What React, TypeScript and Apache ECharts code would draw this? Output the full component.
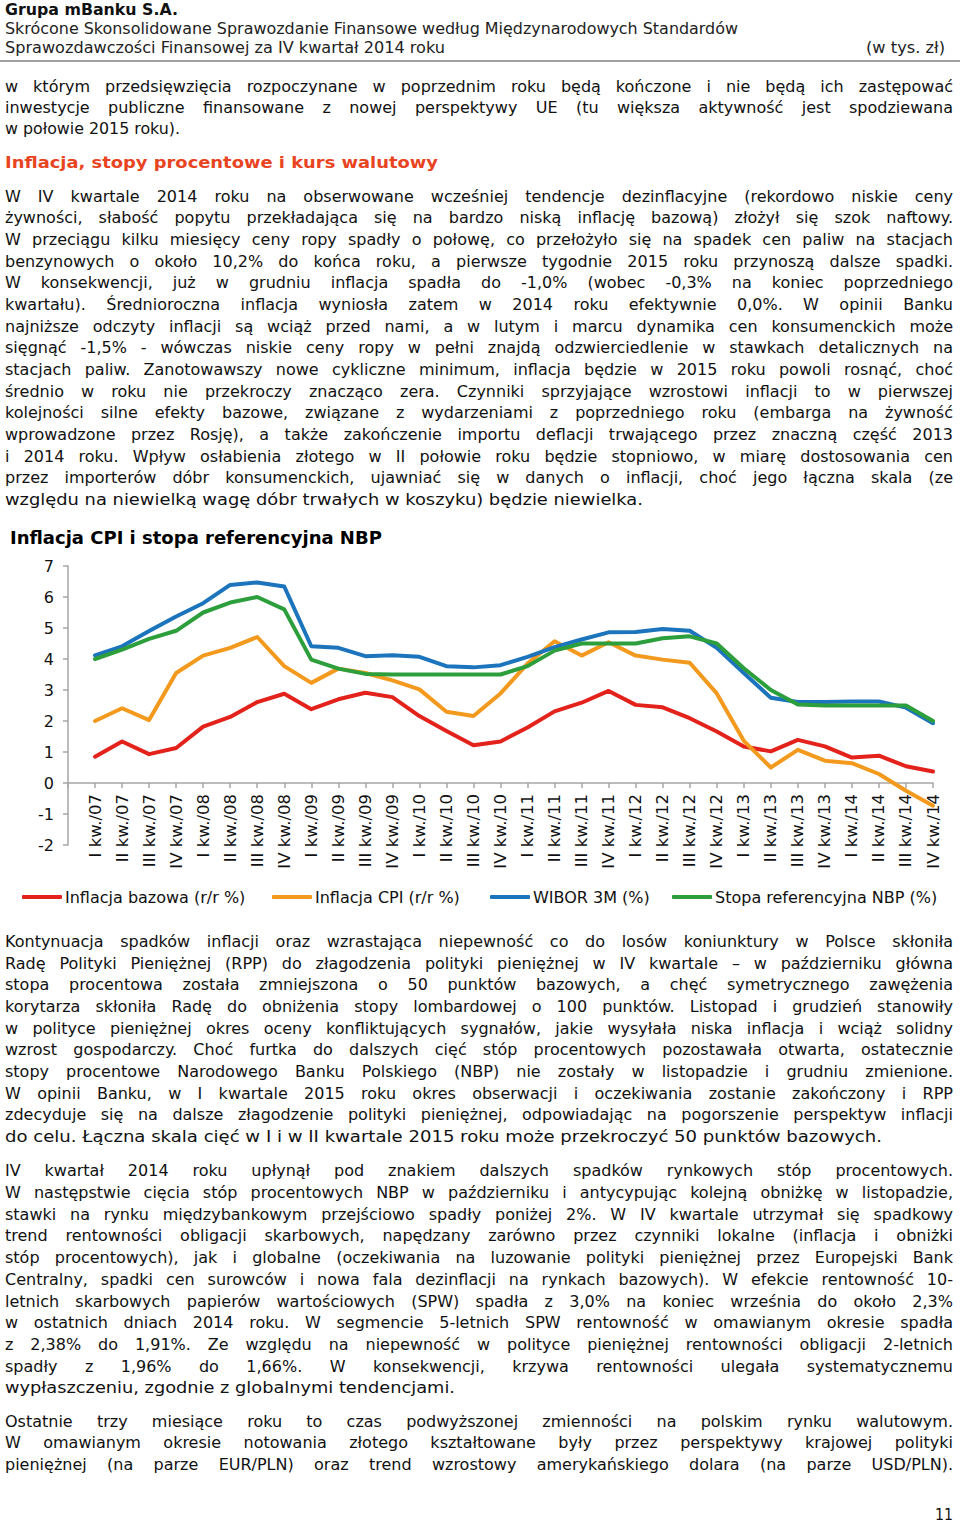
import React, { useEffect, useLayoutEffect, useRef } from "react";
import * as echarts from "echarts";

const categories = [
  "I kw./07", "II kw./07", "III kw./07", "IV kw./07",
  "I kw./08", "II kw./08", "III kw./08", "IV kw./08",
  "I kw./09", "II kw./09", "III kw./09", "IV kw./09",
  "I kw./10", "II kw./10", "III kw./10", "IV kw./10",
  "I kw./11", "II kw./11", "III kw./11", "IV kw./11",
  "I kw./12", "II kw./12", "III kw./12", "IV kw./12",
  "I kw./13", "II kw./13", "III kw./13", "IV kw./13",
  "I kw./14", "II kw./14", "III kw./14", "IV kw./14",
];

const inflacjaBazowa = [
  0.85, 1.34, 0.93, 1.13, 1.82, 2.13, 2.61, 2.88,
  2.38, 2.7, 2.91, 2.77, 2.16, 1.68, 1.22, 1.34,
  1.79, 2.31, 2.59, 2.97, 2.52, 2.44, 2.09, 1.66,
  1.18, 1.02, 1.39, 1.18, 0.82, 0.88, 0.54, 0.37,
];
const inflacjaCPI = [
  2.0, 2.41, 2.03, 3.55, 4.11, 4.36, 4.71, 3.77,
  3.23, 3.69, 3.55, 3.31, 3.02, 2.3, 2.16, 2.89,
  3.85, 4.57, 4.11, 4.54, 4.11, 3.98, 3.88, 2.89,
  1.36, 0.5, 1.07, 0.72, 0.64, 0.29, -0.25, -0.73,
];
const wibor3M = [
  4.12, 4.41, 4.9, 5.37, 5.8, 6.39, 6.47, 6.34,
  4.41, 4.36, 4.09, 4.12, 4.07, 3.77, 3.73, 3.8,
  4.07, 4.38, 4.63, 4.86, 4.87, 4.97, 4.91, 4.36,
  3.55, 2.75, 2.61, 2.61, 2.63, 2.63, 2.43, 1.93,
];
const stopaNBP = [
  4.0, 4.3, 4.65, 4.91, 5.5, 5.82, 6.0, 5.6,
  3.98, 3.69, 3.52, 3.5, 3.5, 3.5, 3.5, 3.5,
  3.77, 4.27, 4.5, 4.5, 4.5, 4.67, 4.73, 4.5,
  3.7, 3.0, 2.53, 2.5, 2.5, 2.5, 2.5, 2.0,
];
const seriesNames = [
  "Inflacja bazowa (r/r %)",
  "Inflacja CPI (r/r %)",
  "WIBOR 3M (%)",
  "Stopa referencyjna NBP (%)",
];
const seriesColors = ["#e3231b", "#f39a1e", "#1c75bc", "#2c9f3c"];

const headerLines = [
  "Grupa mBanku S.A.",
  "Skrócone Skonsolidowane Sprawozdanie Finansowe według Międzynarodowych Standardów",
  "Sprawozdawczości Finansowej za IV kwartał 2014 roku",
];
const para1 = [
  "w którym przedsięwzięcia rozpoczynane w poprzednim roku będą kończone i nie będą ich zastępować",
  "inwestycje publiczne finansowane z nowej perspektywy UE (tu większa aktywność jest spodziewana",
  "w połowie 2015 roku).",
];
const heading = "Inflacja, stopy procentowe i kurs walutowy";
const para2 = [
  "W IV kwartale 2014 roku na obserwowane wcześniej tendencje dezinflacyjne (rekordowo niskie ceny",
  "żywności, słabość popytu przekładająca się na bardzo niską inflację bazową) złożył się szok naftowy.",
  "W przeciągu kilku miesięcy ceny ropy spadły o połowę, co przełożyło się na spadek cen paliw na stacjach",
  "benzynowych o około 10,2% do końca roku, a pierwsze tygodnie 2015 roku przynoszą dalsze spadki.",
  "W konsekwencji, już w grudniu inflacja spadła do -1,0% (wobec -0,3% na koniec poprzedniego",
  "kwartału). Średnioroczna inflacja wyniosła zatem w 2014 roku efektywnie 0,0%. W opinii Banku",
  "najniższe odczyty inflacji są wciąż przed nami, a w lutym i marcu dynamika cen konsumenckich może",
  "sięgnąć -1,5% - wówczas niskie ceny ropy w pełni znajdą odzwierciedlenie w stawkach detalicznych na",
  "stacjach paliw. Zanotowawszy nowe cykliczne minimum, inflacja będzie w 2015 roku powoli rosnąć, choć",
  "średnio w roku nie przekroczy znacząco zera. Czynniki sprzyjające wzrostowi inflacji to w pierwszej",
  "kolejności silne efekty bazowe, związane z wydarzeniami z poprzedniego roku (embarga na żywność",
  "wprowadzone przez Rosję), a także zakończenie importu deflacji trwającego przez znaczną część 2013",
  "i 2014 roku. Wpływ osłabienia złotego w II połowie roku będzie stopniowo, w miarę dostosowania cen",
  "przez importerów dóbr konsumenckich, ujawniać się w danych o inflacji, choć jego łączna skala (ze",
  "względu na niewielką wagę dóbr trwałych w koszyku) będzie niewielka.",
];
const chartTitle = "Inflacja CPI i stopa referencyjna NBP";
const para3 = [
  "Kontynuacja spadków inflacji oraz wzrastająca niepewność co do losów koniunktury w Polsce skłoniła",
  "Radę Polityki Pieniężnej (RPP) do złagodzenia polityki pieniężnej w IV kwartale – w październiku główna",
  "stopa procentowa została zmniejszona o 50 punktów bazowych, a chęć symetrycznego zawężenia",
  "korytarza skłoniła Radę do obniżenia stopy lombardowej o 100 punktów. Listopad i grudzień stanowiły",
  "w polityce pieniężnej okres oceny konfliktujących sygnałów, jakie wysyłała niska inflacja i wciąż solidny",
  "wzrost gospodarczy. Choć furtka do dalszych cięć stóp procentowych pozostawała otwarta, ostatecznie",
  "stopy procentowe Narodowego Banku Polskiego (NBP) nie zostały w listopadzie i grudniu zmienione.",
  "W opinii Banku, w I kwartale 2015 roku okres obserwacji i oczekiwania zostanie zakończony i RPP",
  "zdecyduje się na dalsze złagodzenie polityki pieniężnej, odpowiadając na pogorszenie perspektyw inflacji",
  "do celu. Łączna skala cięć w I i w II kwartale 2015 roku może przekroczyć 50 punktów bazowych.",
];
const para4 = [
  "IV kwartał 2014 roku upłynął pod znakiem dalszych spadków rynkowych stóp procentowych.",
  "W następstwie cięcia stóp procentowych NBP w październiku i antycypując kolejną obniżkę w listopadzie,",
  "stawki na rynku międzybankowym przejściowo spadły poniżej 2%. W IV kwartale utrzymał się spadkowy",
  "trend rentowności obligacji skarbowych, napędzany zarówno przez czynniki lokalne (inflacja i obniżki",
  "stóp procentowych), jak i globalne (oczekiwania na luzowanie polityki pieniężnej przez Europejski Bank",
  "Centralny, spadki cen surowców i nowa fala dezinflacji na rynkach bazowych). W efekcie rentowność 10-",
  "letnich skarbowych papierów wartościowych (SPW) spadła z 3,0% na koniec września do około 2,3%",
  "w ostatnich dniach 2014 roku. W segmencie 5-letnich SPW rentowność w omawianym okresie spadła",
  "z 2,38% do 1,91%. Ze względu na niepewność w polityce pieniężnej rentowności obligacji 2-letnich",
  "spadły z 1,96% do 1,66%. W konsekwencji, krzywa rentowności ulegała systematycznemu",
  "wypłaszczeniu, zgodnie z globalnymi tendencjami.",
];
const para5 = [
  "Ostatnie trzy miesiące roku to czas podwyższonej zmienności na polskim rynku walutowym.",
  "W omawianym okresie notowania złotego kształtowane były przez perspektywy krajowej polityki",
  "pieniężnej (na parze EUR/PLN) oraz trend wzrostowy amerykańskiego dolara (na parze USD/PLN).",
];

const FONT = "'DejaVu Sans', Verdana, sans-serif";

type LineProps = {
  x: number; y: number; w: number; text: string; size?: number; bold?: boolean;
  color?: string; mode?: "justify" | "fit"; family?: string;
};

function Line({ x, y, w, text, size = 16, bold = false, color = "#111", mode = "justify", family = FONT }: LineProps) {
  const ref = useRef<HTMLSpanElement>(null);
  useLayoutEffect(() => {
    const el = ref.current;
    if (!el) return;
    el.style.wordSpacing = "0px";
    el.style.transform = "none";
    const nat = el.getBoundingClientRect().width;
    const spaces = (text.match(/ /g) || []).length;
    if (mode === "justify" && nat < w && spaces > 0) {
      el.style.wordSpacing = (w - nat) / spaces + "px";
    } else if (nat > 0) {
      el.style.transform = `scaleX(${w / nat})`;
    }
  }, [text, w, mode]);
  const lh = 22;
  return (
    <div style={{ position: "absolute", left: x, top: y - lh / 2, height: lh, lineHeight: lh + "px", whiteSpace: "nowrap" }}>
      <span ref={ref} style={{ display: "inline-block", transformOrigin: "0 50%", fontFamily: family, fontSize: size, fontWeight: bold ? "bold" : "normal", color }}>
        {text}
      </span>
    </div>
  );
}

function Para({ lines, ys, lastEnd, lastJustify = false }: { lines: string[]; ys: number[]; lastEnd: number; lastJustify?: boolean }) {
  return (
    <>
      {lines.map((t, i) => {
        const last = i === lines.length - 1;
        if (last && !lastJustify) return <Line key={i} x={5} y={ys[i]} w={lastEnd - 5} text={t} mode="fit" />;
        return <Line key={i} x={5} y={ys[i]} w={948} text={t} mode="justify" />;
      })}
    </>
  );
}

const legendLefts = [22, 272, 490, 672];

function Chart() {
  const ref = useRef<HTMLDivElement>(null);
  useEffect(() => {
    if (!ref.current) return;
    const chart = echarts.init(ref.current, undefined, { renderer: "svg" });
    const axisData = ["", ...categories];
    const datasets = [inflacjaBazowa, inflacjaCPI, wibor3M, stopaNBP];
    chart.setOption({
      animation: false,
      textStyle: { fontFamily: FONT },
      title: {
        text: chartTitle,
        left: 10,
        top: 8,
        padding: 0,
        textStyle: { fontFamily: FONT, fontSize: 18, fontWeight: "bold", color: "#000" },
      },
      legend: seriesNames.map((name, i) => ({
        data: [name],
        left: legendLefts[i],
        top: 369,
        padding: 0,
        icon: "roundRect",
        itemWidth: 40,
        itemHeight: 4,
        textStyle: { fontFamily: FONT, fontSize: 16, color: "#111", padding: [0, 0, 0, -2] },
      })),
      grid: { left: 68, right: 27, top: 46, bottom: 75, containLabel: false, outerBoundsMode: "none" },
      xAxis: {
        type: "category",
        data: axisData,
        boundaryGap: false,
        offset: -62,
        axisLine: { show: true, onZero: false, lineStyle: { color: "#a6a6a6", width: 1.5 } },
        axisTick: { show: true, length: 5, interval: 0, lineStyle: { color: "#a6a6a6", width: 1.5 } },
        axisLabel: { interval: 0, rotate: 90, margin: 11, fontFamily: FONT, fontSize: 16.5, color: "#111" },
        splitLine: { show: false },
      },
      yAxis: {
        type: "value",
        min: -2,
        max: 7,
        interval: 1,
        axisLine: { show: true, lineStyle: { color: "#a6a6a6", width: 1.5 } },
        axisTick: { show: true, length: 5, lineStyle: { color: "#a6a6a6", width: 1.5 } },
        axisLabel: { margin: 14, fontFamily: FONT, fontSize: 16, color: "#111" },
        splitLine: { show: false },
      },
      series: seriesNames.map((name, i) => ({
        name,
        type: "line",
        data: [null, ...datasets[i]],
        symbol: "none",
        smooth: false,
        color: seriesColors[i],
        lineStyle: { color: seriesColors[i], width: 4, join: "round", cap: "round" },
        z: 2 + i,
      })),
    });
    return () => chart.dispose();
  }, []);
  return <div ref={ref} style={{ position: "absolute", left: 0, top: 520, width: 960, height: 400 }} />;
}

export default function App() {
  const p2y = [197, 218, 240, 262, 283, 305, 327, 348, 370, 392, 413, 435, 457, 478, 500];
  const p3y = [942, 964, 985, 1007, 1029, 1050, 1072, 1094, 1115, 1137];
  const p4y = [1171, 1193, 1215, 1236, 1258, 1280, 1302, 1323, 1345, 1367, 1388];
  const p5y = [1422, 1443, 1465];
  return (
    <div style={{ position: "absolute", left: 0, top: 0, width: 960, height: 1523, background: "#fff", overflow: "hidden" }}>
      <Line x={5} y={10} w={173} text={headerLines[0]} bold mode="fit" color="#111" />
      <Line x={5} y={29} w={733} text={headerLines[1]} mode="fit" color="#222" />
      <Line x={5} y={48} w={440} text={headerLines[2]} mode="fit" color="#222" />
      <Line x={866} y={48} w={79} text="(w tys. zł)" mode="fit" color="#222" />
      <div style={{ position: "absolute", left: 0, top: 60, width: 960, height: 2, background: "#a0a0a0" }} />
      <Para lines={para1} ys={[87, 108, 129]} lastEnd={180} />
      <Line x={5} y={163} w={433} text={heading} bold mode="fit" color="#e8441f" />
      <Para lines={para2} ys={p2y} lastEnd={643} />
      <Chart />
      <Para lines={para3} ys={p3y} lastEnd={882} />
      <Para lines={para4} ys={p4y} lastEnd={455} />
      <Para lines={para5} ys={p5y} lastEnd={953} lastJustify />
      <Line x={935} y={1515} w={18} text="11" mode="fit" />
    </div>
  );
}
